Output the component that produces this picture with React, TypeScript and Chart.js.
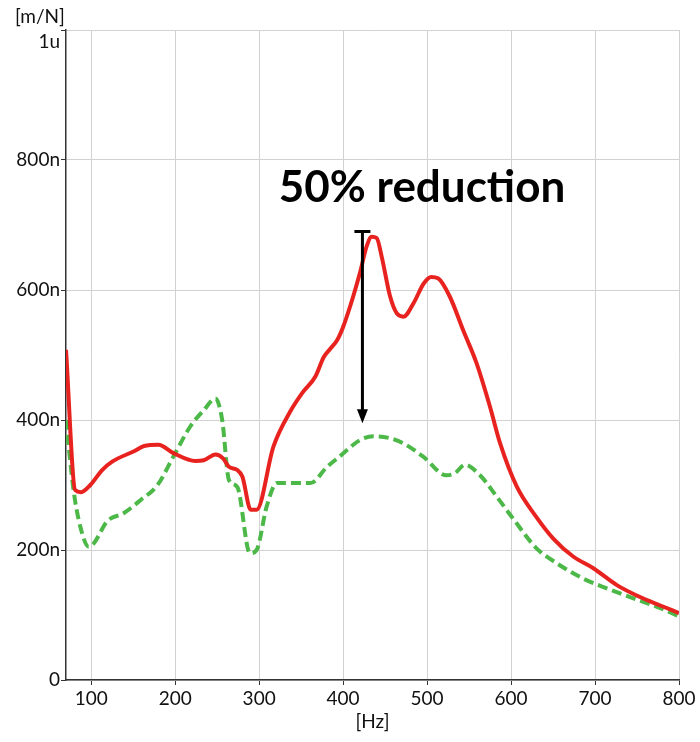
import React, { useEffect, useRef } from "react";
import { Chart, registerables } from "chart.js";

Chart.register(...registerables);

const xTicks = [100, 200, 300, 400, 500, 600, 700, 800];
const yTicks = [0, 200, 400, 600, 800, 1000];
const yTickLabels = ["0", "200n", "400n", "600n", "800n", "1u"];

const redHz = [70, 81, 88, 99, 113, 125, 151, 163, 180, 198, 224, 234, 248, 257, 264, 274, 280, 290, 297, 317, 337, 351, 367, 377, 385, 393, 400, 412, 420, 428, 434, 440, 446, 456, 464, 472, 484, 496, 505, 513, 527, 543, 559, 575, 587, 607, 630, 650, 674, 698, 726, 753, 777, 800];
const redVal = [508, 292, 289, 300, 323, 336, 352, 360, 362, 349, 337, 338, 347, 341, 328, 323, 313, 262, 262, 359, 413, 441, 467, 497, 510, 523, 543, 590, 626, 667, 682, 680, 651, 590, 564, 559, 580, 610, 620, 618, 590, 538, 487, 420, 364, 297, 251, 218, 190, 172, 146, 128, 115, 103];

const greenHz = [70, 79, 87, 97, 103, 119, 139, 159, 179, 198, 218, 234, 248, 256, 264, 274, 289, 297, 309, 321, 361, 381, 396, 420, 436, 456, 472, 495, 523, 533, 545, 563, 583, 602, 630, 654, 686, 714, 745, 773, 800];
const greenVal = [400, 292, 236, 205, 210, 244, 257, 277, 300, 344, 390, 415, 433, 400, 308, 297, 195, 200, 267, 303, 303, 328, 344, 369, 375, 372, 364, 344, 315, 318, 331, 315, 282, 249, 203, 180, 156, 141, 126, 113, 98];

const arrowHz = 423;
const arrowTop = 690;
const arrowBottom = 395;
const annotationText = "50% reduction";
const annotationHz = 494;
const annotationVal = 735;
const yUnit = "[m/N]";
const xUnit = "[Hz]";

const FONT = "Lato, 'Open Sans', sans-serif";

export default function App() {
  const ref = useRef<HTMLCanvasElement | null>(null);

  useEffect(() => {
    if (!ref.current) return;
    const overlay = {
      id: "overlay",
      afterDraw(chart: any) {
        const { ctx, scales, chartArea } = chart;
        const xs = scales.x;
        const ys = scales.y;
        ctx.save();
        ctx.fillStyle = "#111";
        ctx.font = `19px ${FONT}`;
        ctx.textAlign = "right";
        ctx.textBaseline = "middle";
        ctx.fillText(yTickLabels[yTickLabels.length - 1], chartArea.left - 6, ys.getPixelForValue(1000) + 12);
        ctx.textAlign = "left";
        ctx.fillText(yUnit, 15, 17);
        ctx.textAlign = "center";
        ctx.fillText(xUnit, (chartArea.left + chartArea.right) / 2, 722);
        const ax = xs.getPixelForValue(arrowHz);
        const at = ys.getPixelForValue(arrowTop);
        const ab = ys.getPixelForValue(arrowBottom);
        ctx.strokeStyle = "#000";
        ctx.fillStyle = "#000";
        ctx.lineWidth = 3;
        ctx.beginPath();
        ctx.moveTo(ax, at);
        ctx.lineTo(ax, ab - 12);
        ctx.stroke();
        ctx.beginPath();
        ctx.moveTo(ax - 8, at);
        ctx.lineTo(ax + 8, at);
        ctx.stroke();
        ctx.beginPath();
        ctx.moveTo(ax - 5.5, ab - 14);
        ctx.lineTo(ax + 5.5, ab - 14);
        ctx.lineTo(ax, ab);
        ctx.closePath();
        ctx.fill();
        ctx.font = `bold 44px ${FONT}`;
        ctx.textAlign = "center";
        ctx.textBaseline = "alphabetic";
        ctx.fillText(annotationText, xs.getPixelForValue(annotationHz), ys.getPixelForValue(annotationVal));
        ctx.restore();
      },
    };

    const chart = new Chart(ref.current, {
      type: "line",
      data: {
        datasets: [
          {
            label: "original",
            data: redHz.map((x, i) => ({ x, y: redVal[i] })),
            borderColor: "#e8231f",
            borderWidth: 4,
            pointRadius: 0,
            cubicInterpolationMode: "monotone",
            fill: false,
          },
          {
            label: "modified",
            data: greenHz.map((x, i) => ({ x, y: greenVal[i] })),
            borderColor: "#4cb848",
            borderWidth: 4,
            borderDash: [10, 5],
            pointRadius: 0,
            cubicInterpolationMode: "monotone",
            fill: false,
          },
        ],
      },
      options: {
        animation: false,
        responsive: false,
        layout: { padding: { top: 30, right: 21, left: 0, bottom: 0 } },
        plugins: { legend: { display: false }, tooltip: { enabled: false } },
        scales: {
          x: {
            type: "linear",
            min: 70,
            max: 800,
            afterBuildTicks: (s: any) => {
              s.ticks = xTicks.map((v) => ({ value: v }));
            },
            afterFit: (s: any) => {
              s.height = 62;
            },
            ticks: {
              font: { family: FONT, size: 19 },
              color: "#111",
              padding: 2,
              maxRotation: 0,
              callback: (v: any) => String(v),
            },
            grid: { color: "#d2d2d2", tickColor: "#333", tickLength: 5, lineWidth: 1 },
            border: { color: "#333", width: 1.5 },
          },
          y: {
            type: "linear",
            min: 0,
            max: 1000,
            afterBuildTicks: (s: any) => {
              s.ticks = yTicks.map((v) => ({ value: v }));
            },
            afterFit: (s: any) => {
              s.width = 66;
            },
            ticks: {
              font: { family: FONT, size: 19 },
              color: (c: any) => (c.tick && c.tick.value === 1000 ? "rgba(0,0,0,0)" : "#111"),
              padding: 1,
              callback: (v: any) => yTickLabels[yTicks.indexOf(Number(v))] ?? "",
            },
            grid: { color: "#d2d2d2", tickColor: "#333", tickLength: 5, lineWidth: 1 },
            border: { color: "#333", width: 1.5 },
          },
        },
      },
      plugins: [overlay],
    });
    return () => chart.destroy();
  }, []);

  return (
    <div style={{ position: "absolute", left: 0, top: 0, width: 700, height: 742, background: "#fff" }}>
      <canvas ref={ref} width={700} height={742} style={{ width: 700, height: 742 }} />
    </div>
  );
}
